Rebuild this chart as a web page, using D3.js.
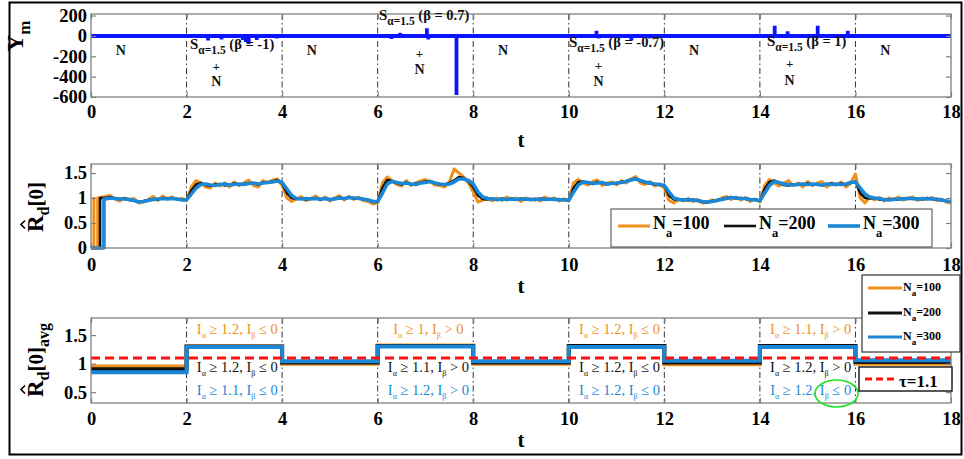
<!DOCTYPE html>
<html>
<head>
<meta charset="utf-8">
<script src="https://cdn.jsdelivr.net/npm/d3@7"></script>
<style>
  body { margin: 0; background: #fff; }
  text { font-family: "Liberation Serif", "Times New Roman", serif; }
</style>
</head>
<body>
<svg id="fig" width="964" height="459"></svg>
<script>
// ---------- data ----------
const tTicks = [0, 2, 4, 6, 8, 10, 12, 14, 16, 18];
const segBounds = [2, 4, 6, 8, 10, 12, 14, 16];
const ymTicks = [-600, -400, -200, 0, 200];
const rdTicks = [0, 0.5, 1, 1.5];
const avgTicks = [0.5, 1, 1.5];

// impulsive bursts on the measured signal Y_m
const burstT = [2.12, 2.45, 2.73, 3.18, 3.24, 3.3, 3.47, 3.89, 6.29, 6.47, 7.03, 7.06, 7.65, 10.4, 10.58, 10.63, 11.31, 11.7, 14.31, 14.58, 15.21, 15.5, 15.84];
const burstY = [-12, -45, -35, -40, -60, -80, -40, -25, -30, 30, 75, -35, -580, -15, 50, -25, -45, -25, 100, 45, 100, 15, 50];

// segment labels of the measurement (N = noise only, S = alpha-stable + noise)
const segLabel = ["N", "S", "N", "S", "N", "S", "N", "S", "N"];
const segBeta  = ["", "-1", "", "0.7", "", "-0.7", "", "1", ""];

// start-up of the running estimates (t, value)
const start100T = [0, 0.06, 0.06, 0.06, 0.14, 0.14];
const start100V = [0, 0, 1, 0, 0, 1];
const start200T = [0, 0.19, 0.19];
const start200V = [0, 0, 1];
const start300T = [0, 0.27, 0.27];
const start300V = [0, 0, 0.98];

// running estimate of R_d[0], sampled every 0.1 from t = 0.3 to 18
const rd100 = [
  1.03,1.05,0.98,0.94,1.0,0.97,0.99,0.9,0.92,0.97,1.03,0.95,1.04,0.99,1.02,0.97,0.99,0.95,
  1.22,1.35,1.3,1.22,1.2,1.3,1.24,1.3,1.22,1.32,1.25,1.3,1.36,1.25,1.22,1.35,1.3,1.36,1.38,1.25,
  1.0,0.93,0.98,1.03,0.95,0.99,1.04,0.96,1.02,0.94,1.0,1.05,0.96,1.03,0.97,1.02,0.95,0.93,0.88,0.91,
  1.3,1.42,1.35,1.27,1.24,1.35,1.25,1.3,1.34,1.37,1.32,1.26,1.25,1.22,1.32,1.58,1.5,1.42,1.3,1.12,
  0.92,0.96,1.0,0.94,1.0,0.95,1.02,0.97,1.0,0.93,1.0,0.96,0.99,0.94,1.02,0.97,1.0,0.94,0.98,0.94,
  1.3,1.37,1.3,1.26,1.33,1.36,1.25,1.3,1.32,1.26,1.35,1.3,1.38,1.43,1.3,1.27,1.33,1.24,1.28,1.2,
  0.95,0.9,0.98,0.94,0.99,0.93,0.97,0.9,0.92,0.96,0.94,1.0,1.03,0.97,1.02,0.96,1.01,0.93,0.98,0.92,
  1.25,1.37,1.3,1.24,1.3,1.35,1.25,1.3,1.22,1.33,1.25,1.3,1.33,1.22,1.3,1.26,1.32,1.22,1.3,1.48,
  1.0,0.9,1.02,0.96,1.01,0.94,1.0,0.97,1.02,0.96,0.99,1.02,0.95,1.0,0.97,1.01,0.95,0.98,0.92,0.9
];
const rd200 = [
  1.0,1.02,0.99,0.98,0.99,0.96,0.95,0.93,0.94,0.96,0.98,0.97,1.0,0.99,1.0,0.98,0.97,0.96,
  1.15,1.27,1.3,1.26,1.24,1.27,1.28,1.25,1.27,1.29,1.26,1.28,1.3,1.29,1.27,1.31,1.32,1.33,1.36,1.3,
  1.1,1.0,0.98,0.99,0.97,0.99,1.0,0.97,0.99,0.96,0.99,1.01,0.98,1.02,0.99,1.0,0.97,0.96,0.92,0.92,
  1.2,1.36,1.34,1.3,1.27,1.31,1.27,1.29,1.31,1.33,1.34,1.29,1.27,1.26,1.3,1.35,1.42,1.4,1.33,1.22,
  1.05,0.98,0.97,0.99,0.96,0.99,0.96,0.99,0.97,0.99,0.97,0.98,0.96,0.99,0.98,0.97,0.98,0.96,0.97,0.95,
  1.2,1.32,1.33,1.3,1.28,1.32,1.3,1.27,1.3,1.29,1.32,1.34,1.37,1.39,1.34,1.31,1.29,1.27,1.26,1.24,
  1.05,0.97,0.96,0.97,0.95,0.97,0.94,0.92,0.91,0.94,0.96,0.98,1.0,1.02,0.99,1.0,0.98,0.96,0.97,0.94,
  1.18,1.32,1.35,1.3,1.26,1.25,1.27,1.28,1.27,1.29,1.26,1.28,1.25,1.27,1.29,1.26,1.29,1.27,1.3,1.33,
  1.1,1.0,0.99,1.0,0.97,0.96,0.97,0.98,0.97,0.99,1.0,0.98,0.99,0.97,1.0,0.98,0.97,0.95,0.94,0.92
];
const rd300 = [
  0.98,1.0,0.99,0.98,0.98,0.97,0.95,0.92,0.93,0.95,0.97,0.98,0.99,0.98,0.99,0.98,0.96,0.96,
  1.08,1.2,1.27,1.28,1.26,1.25,1.27,1.28,1.26,1.27,1.28,1.27,1.29,1.3,1.28,1.3,1.31,1.32,1.34,1.31,
  1.18,1.05,0.99,0.98,0.99,0.98,0.99,0.98,0.99,0.97,0.98,1.0,0.99,1.01,1.0,0.99,0.98,0.96,0.93,0.93,
  1.1,1.28,1.33,1.31,1.29,1.3,1.28,1.27,1.3,1.31,1.33,1.3,1.28,1.27,1.28,1.32,1.38,1.38,1.35,1.28,
  1.12,1.02,0.99,0.98,0.97,0.98,0.97,0.98,0.97,0.98,0.98,0.97,0.97,0.98,0.97,0.98,0.97,0.97,0.96,0.96,
  1.12,1.26,1.32,1.31,1.29,1.3,1.31,1.28,1.29,1.3,1.31,1.33,1.36,1.38,1.35,1.32,1.3,1.28,1.27,1.25,
  1.12,1.0,0.97,0.96,0.97,0.96,0.95,0.93,0.92,0.93,0.95,0.97,0.99,1.01,1.0,0.99,0.99,0.97,0.96,0.95,
  1.1,1.25,1.33,1.31,1.28,1.27,1.26,1.27,1.28,1.27,1.28,1.27,1.26,1.28,1.27,1.28,1.27,1.28,1.31,1.32,
  1.2,1.08,1.02,1.0,0.99,0.97,0.96,0.97,0.98,0.98,0.99,0.99,0.98,0.98,0.99,0.98,0.98,0.96,0.94,0.93
];

// segment averages of R_d[0] (one value per 2 s segment)
const segStart = [0, 2, 4, 6, 8, 10, 12, 14, 16];
const avg100 = [0.95, 1.3, 1.0, 1.32, 1.0, 1.3, 0.99, 1.3, 1.0];
const avg200 = [0.9, 1.3, 1.02, 1.31, 1.02, 1.31, 1.02, 1.31, 1.03];
const avg300 = [0.85, 1.29, 1.04, 1.3, 1.04, 1.29, 1.05, 1.29, 1.06];
const tau = 1.1;

// detected index conditions in the impulsive segments
const condCenters = [3, 7, 11, 15];
const condAlpha = { 100: ["1.2", "1", "1.2", "1.1"], 200: ["1.2", "1.1", "1.2", "1.2"], 300: ["1.1", "1.2", "1.2", "1.2"] };
const condBeta  = { 100: ["≤", ">", "≤", ">"],       200: ["≤", ">", "≤", ">"],       300: ["≤", ">", "≤", "≤"] };

const sizes = [100, 200, 300];

// ---------- drawing ----------
const col = { 100: "#f0901c", 200: "#111111", 300: "#1a88d6" };
const lw  = { 100: 3, 200: 2.6, 300: 3.6 };

const svg = d3.select("#fig");
const x = d3.scaleLinear().domain([0, 18]).range([91, 951]);

function panel(y, top, bottom, yTicks, pad) {
  const g = svg.append("g");
  const grid = g.append("g");
  grid.selectAll("line").data(segBounds).join("line")
    .attr("x1", d => x(d)).attr("x2", d => x(d))
    .attr("y1", top).attr("y2", bottom)
    .attr("stroke", "#333").attr("stroke-width", 1)
    .attr("stroke-dasharray", "6,3,1.5,3");
  const data = g.append("g");
  const axes = g.append("g");
  axes.append("rect").attr("x", 91).attr("y", top).attr("width", 860).attr("height", bottom - top)
    .attr("fill", "none").attr("stroke", "#808080").attr("stroke-width", 1.3);
  const fmt = d => String(d);
  const ax = [
    axes.append("g").attr("transform", `translate(0,${bottom})`)
      .call(d3.axisBottom(x).tickValues(tTicks).tickSize(-5).tickPadding(pad).tickFormat(fmt)),
    axes.append("g").attr("transform", `translate(0,${top})`)
      .call(d3.axisTop(x).tickValues(tTicks).tickSize(-5).tickFormat("")),
    axes.append("g").attr("transform", "translate(91,0)")
      .call(d3.axisLeft(y).tickValues(yTicks).tickSize(-5).tickPadding(4).tickFormat(fmt)),
    axes.append("g").attr("transform", "translate(951,0)")
      .call(d3.axisRight(y).tickValues(yTicks).tickSize(-5).tickFormat(""))
  ];
  ax.forEach(a => {
    a.select(".domain").remove();
    a.selectAll(".tick line").attr("stroke", "#808080").attr("stroke-width", 1.2);
    a.selectAll("text").attr("font-family", "Liberation Serif").attr("font-weight", "bold")
      .attr("font-size", 18.5).attr("fill", "#000");
  });
  return { g, data, axes };
}

function tLabel(yBase) {
  svg.append("text").attr("x", 521).attr("y", yBase).attr("text-anchor", "middle")
    .attr("font-weight", "bold").attr("font-size", 21).text("t");
}

// ===== panel 1 : measured signal =====
const y1 = d3.scaleLinear().domain([-600, 215]).range([97, 14]);
const p1 = panel(y1, 14, 97, ymTicks, 8);
p1.data.append("line").attr("x1", x(0)).attr("x2", x(18)).attr("y1", y1(0)).attr("y2", y1(0))
  .attr("stroke", "#0a14ff").attr("stroke-width", 4);
p1.data.selectAll(".burst").data(burstT.map((t, i) => [t, burstY[i]])).join("line")
  .attr("x1", d => x(d[0])).attr("x2", d => x(d[0]))
  .attr("y1", y1(0)).attr("y2", d => y1(d[1]))
  .attr("stroke", "#0a14ff").attr("stroke-width", 3.8);

// segment annotations
const ann = svg.append("g").attr("font-weight", "bold").attr("fill", "#111");
function stableLabel(xStart, yBase, beta) {
  const t = ann.append("text").attr("x", xStart).attr("y", yBase).attr("font-size", 14);
  t.append("tspan").attr("font-size", 15).text("S");
  t.append("tspan").attr("font-size", 11.5).attr("dy", 5).text("α=1.5");
  t.append("tspan").attr("font-size", 14.5).attr("dy", -5).text(` (β = ${beta})`);
}
const stableLayout = { 1: [190, 49, 86, 67], 3: [379, 20, 74, 54], 5: [569, 47, 86, 66], 7: [767, 46, 85, 64] };
segLabel.forEach((lab, i) => {
  const cx = i * 2 + 1;
  if (lab === "N") {
    ann.append("text").attr("x", x(cx) - 18).attr("y", 55).attr("font-size", 14)
      .attr("text-anchor", "middle").text("N");
  } else {
    const [xs, yb, nb, pb] = stableLayout[i];
    stableLabel(xs, yb, segBeta[i]);
    const xc = i === 3 ? x(cx) - 6 : x(cx) - 18;
    ann.append("text").attr("x", xc).attr("y", pb + 4).attr("font-size", 13)
      .attr("text-anchor", "middle").text("+");
    ann.append("text").attr("x", xc).attr("y", nb).attr("font-size", 14)
      .attr("text-anchor", "middle").text("N");
  }
});

// y label Y_m
{
  const t = svg.append("text").attr("transform", "translate(23,36) rotate(-90)")
    .attr("text-anchor", "middle").attr("font-weight", "bold");
  t.append("tspan").attr("font-size", 23).text("Y");
  t.append("tspan").attr("font-size", 17).attr("dy", 7).text("m");
}
tLabel(147);

// ===== panel 2 : running estimate =====
const y2 = d3.scaleLinear().domain([0, 1.68]).range([248, 164]);
const p2 = panel(y2, 164, 248, rdTicks, 10);
const series = {
  100: { st: start100T, sv: start100V, v: rd100 },
  200: { st: start200T, sv: start200V, v: rd200 },
  300: { st: start300T, sv: start300V, v: rd300 }
};
const line2 = d3.line().x(d => x(d[0])).y(d => y2(d[1]));
sizes.forEach(n => {
  const s = series[n];
  const pts = s.st.map((t, i) => [t, s.sv[i]])
    .concat(s.v.map((v, i) => [+(0.3 + i * 0.1).toFixed(1), v]));
  p2.data.append("path").attr("d", line2(pts)).attr("fill", "none")
    .attr("stroke", col[n]).attr("stroke-width", lw[n]).attr("stroke-linejoin", "round");
});

function hatLabel(cx, cy, subs) {
  const g = svg.append("g").attr("transform", `translate(${cx},${cy}) rotate(-90)`);
  const t = g.append("text").attr("font-weight", "bold");
  t.append("tspan").attr("font-size", 23).text("R");
  t.append("tspan").attr("font-size", 16).attr("dy", 6).text("d");
  t.append("tspan").attr("font-size", 21).attr("dy", -6).text("[0]");
  if (subs) t.append("tspan").attr("font-size", 16).attr("dy", 6).text(subs);
  const w = t.node().getComputedTextLength();
  t.attr("x", -w / 2);
  const rw = 15;
  const hx = -w / 2 + rw / 2;
  g.append("path").attr("d", `M${hx - 4},-18 L${hx},-22 L${hx + 4},-18`)
    .attr("fill", "none").attr("stroke", "#000").attr("stroke-width", 1.6);
}
hatLabel(43, 207, null);
tLabel(293);

// legend for panel 2
{
  const lg = svg.append("g");
  lg.append("rect").attr("x", 611).attr("y", 209).attr("width", 321).attr("height", 38)
    .attr("fill", "#fff").attr("stroke", "#444").attr("stroke-width", 1);
  const xs = { 100: 618, 200: 724, 300: 828 };
  sizes.forEach(n => {
    lg.append("line").attr("x1", xs[n]).attr("x2", xs[n] + 32).attr("y1", 226).attr("y2", 226)
      .attr("stroke", col[n]).attr("stroke-width", lw[n]);
    const t = lg.append("text").attr("x", xs[n] + 35).attr("y", 229).attr("font-weight", "bold").attr("font-size", 18);
    t.append("tspan").text("N");
    t.append("tspan").attr("font-size", 12.5).attr("dy", 8).text("a");
    t.append("tspan").attr("dy", -8).text("=" + n);
  });
}

// ===== panel 3 : segment averages =====
const y3 = d3.scaleLinear().domain([0.31, 1.8]).range([403, 318]);
const p3 = panel(y3, 318, 403, avgTicks, 9);
const step = d3.line().x(d => x(d[0])).y(d => y3(d[1])).curve(d3.curveStepAfter);
const avgs = { 100: avg100, 200: avg200, 300: avg300 };
sizes.forEach(n => {
  const a = avgs[n];
  const pts = segStart.map((t, i) => [t, a[i]]).concat([[18, a[a.length - 1]]]);
  p3.data.append("path").attr("d", step(pts)).attr("fill", "none")
    .attr("stroke", col[n]).attr("stroke-width", 4);
});
p3.data.append("line").attr("x1", x(0)).attr("x2", x(18)).attr("y1", y3(tau)).attr("y2", y3(tau))
  .attr("stroke", "#ff1010").attr("stroke-width", 3).attr("stroke-dasharray", "9,5");

// condition annotations
const txtCol = { 100: "#f0901c", 200: "#111111", 300: "#1a88d6" };
const condY = { 100: 334, 200: 372, 300: 395 };
sizes.forEach(n => {
  condCenters.forEach((c, i) => {
    const t = svg.append("text").attr("x", x(c) + 3).attr("y", condY[n]).attr("text-anchor", "middle")
      .attr("font-size", 14.5).attr("fill", txtCol[n]);
    t.append("tspan").text("I");
    t.append("tspan").attr("font-size", 8).attr("dy", 4).text("α");
    t.append("tspan").attr("dy", -4).text(` ≥ ${condAlpha[n][i]}, I`);
    t.append("tspan").attr("font-size", 8).attr("dy", 4).text("β");
    t.append("tspan").attr("dy", -4).text(` ${condBeta[n][i]} 0`);
  });
});
svg.append("ellipse").attr("cx", 836.5).attr("cy", 393.5).attr("rx", 21.5).attr("ry", 13.5)
  .attr("fill", "none").attr("stroke", "#22e022").attr("stroke-width", 1.6);

hatLabel(43, 360, "avg");
tLabel(447);

// legend for panel 3
{
  const lg = svg.append("g");
  lg.append("rect").attr("x", 862).attr("y", 275).attr("width", 98).attr("height", 77)
    .attr("fill", "#fff").attr("stroke", "#333").attr("stroke-width", 1.2);
  const ys = { 100: 288, 200: 313, 300: 337 };
  sizes.forEach(n => {
    lg.append("line").attr("x1", 868).attr("x2", 902).attr("y1", ys[n]).attr("y2", ys[n])
      .attr("stroke", col[n]).attr("stroke-width", 3);
    const t = lg.append("text").attr("x", 903).attr("y", ys[n] + 3).attr("font-weight", "bold").attr("font-size", 12);
    t.append("tspan").text("N");
    t.append("tspan").attr("font-size", 9).attr("dy", 5).text("a");
    t.append("tspan").attr("dy", -5).text("=" + n);
  });
  lg.append("rect").attr("x", 859).attr("y", 367).attr("width", 93).attr("height", 24)
    .attr("fill", "#fff").attr("stroke", "#222").attr("stroke-width", 1.5);
  lg.append("line").attr("x1", 865).attr("x2", 896).attr("y1", 379).attr("y2", 379)
    .attr("stroke", "#ff1010").attr("stroke-width", 3).attr("stroke-dasharray", "7,4");
  lg.append("text").attr("x", 899).attr("y", 387).attr("font-weight", "bold").attr("font-size", 17)
    .text("τ=" + tau);
}

// outer frame
svg.append("rect").attr("x", 9.5).attr("y", 2.5).attr("width", 952).attr("height", 452)
  .attr("fill", "none").attr("stroke", "#000").attr("stroke-width", 2);
</script>
</body>
</html>
